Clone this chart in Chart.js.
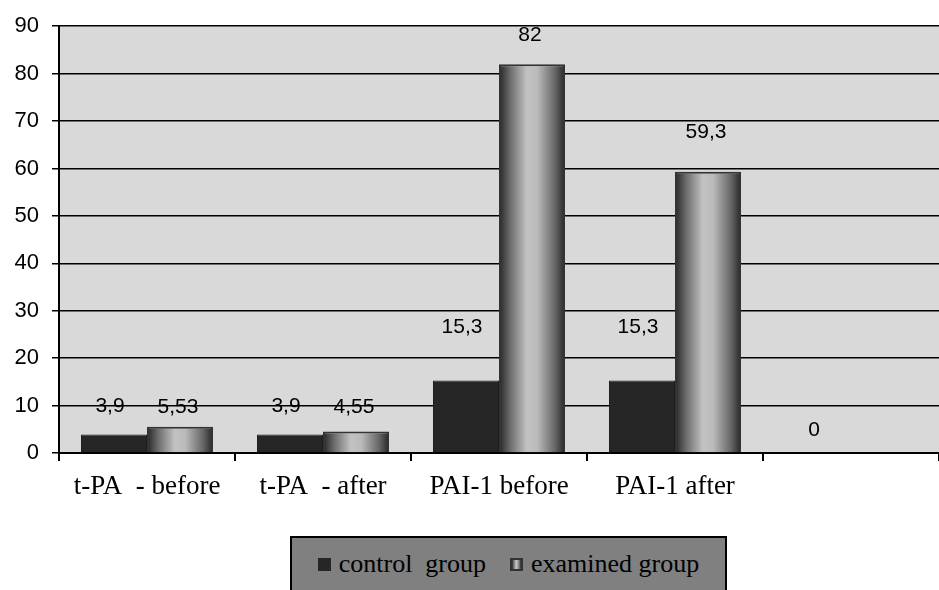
<!DOCTYPE html>
<html>
<head>
<meta charset="utf-8">
<title>t-PA / PAI-1</title>
<script src="https://cdn.jsdelivr.net/npm/chart.js@4.4.0/dist/chart.umd.min.js"></script>
<style>
	body{margin:0;background:#fff;}
	#wrap{position:relative;width:939px;height:590px;}
	#legend{position:absolute;left:290px;top:536px;width:433px;height:52px;background:#808080;border:2px solid #000;
		display:flex;align-items:center;justify-content:center;font-family:"Liberation Serif","Times New Roman",serif;font-size:26px;color:#000;}
	#legend .item{display:flex;align-items:center;margin:0 12px;}
	#legend .sw{width:13px;height:13px;margin-right:8px;box-sizing:border-box;}
</style>
</head>
<body>
<div id="wrap">
	<canvas id="chart" width="939" height="590"></canvas>
	<div id="legend"></div>
</div>
<script>
/*	t-PA and PAI-1, control vs examined group
*/

const categories = ["t-PA  - before", "t-PA  - after", "PAI-1 before", "PAI-1 after", ""];
const controlGroup = [3.9, 3.9, 15.3, 15.3, 0];
const examinedGroup = [5.53, 4.55, 82, 59.3, null];
const seriesNames = ["control  group", "examined group"];
const yTicks = [0, 10, 20, 30, 40, 50, 60, 70, 80, 90];

let catShare = 0.75,
	examinedFill = "linear-gradient(to right,#2a2a2a,#777 20%,#c4c4c4 45%,#bdbdbd 55%,#6a6a6a 85%,#2a2a2a)";

//horizontal shading so the examined bars look like cylinders
const cylinder = function(context){
	let chart = context.chart,
		x = chart.scales.x;
	if(!chart.chartArea || !x || context.dataIndex === undefined) return "#999";
	let cw = x.getPixelForValue(1) - x.getPixelForValue(0),
		bw = cw * catShare / 2,
		left = x.getPixelForValue(context.dataIndex),
		g = chart.ctx.createLinearGradient(left, 0, left + bw, 0);
	g.addColorStop(0, "#252525");
	g.addColorStop(0.18, "#707070");
	g.addColorStop(0.42, "#c2c2c2");
	g.addColorStop(0.58, "#bababa");
	g.addColorStop(0.85, "#666");
	g.addColorStop(1, "#262626");
	return g;
};

const plotBackground = {
	id:"plotBackground",
	beforeDraw(chart){
		let a = chart.chartArea, ctx = chart.ctx;
		ctx.save();
		ctx.fillStyle = "#d9d9d9";
		ctx.fillRect(a.left, a.top, a.right - a.left, a.bottom - a.top);
		ctx.restore();
	}
};

//value labels, comma as decimal sign
const valueLabels = {
	id:"valueLabels",
	afterDatasetsDraw(chart, args, opts){
		let ctx = chart.ctx;
		ctx.save();
		ctx.font = "21px 'Liberation Sans', Arial, sans-serif";
		ctx.fillStyle = "#000";
		ctx.textAlign = "center";
		ctx.textBaseline = "middle";
		chart.data.datasets.forEach((ds, di) => {
			chart.getDatasetMeta(di).data.forEach((bar, i) => {
				let v = ds.data[i];
				if(v === null || v === undefined) return;
				let txt = String(v).replace(".", ",");
				ctx.fillText(txt, bar.x + opts.dx[di], bar.y - opts.lift[di][i]);
			});
		});
		ctx.restore();
	}
};

const chart = new Chart(document.getElementById("chart").getContext("2d"), {
	type:"bar",
	data:{
		labels:categories,
		datasets:[{
			label:seriesNames[0],
			data:controlGroup,
			backgroundColor:"#262626",
			borderColor:"#1e1e1e",
			borderWidth:1,
			categoryPercentage:catShare,
			barPercentage:1},
		{
			label:seriesNames[1],
			data:examinedGroup,
			backgroundColor:cylinder,
			borderColor:"#333",
			borderWidth:2,
			categoryPercentage:catShare,
			barPercentage:1}
		]},
	options:{
		responsive:false,
		animation:false,
		layout:{padding:{top:21, left:0, right:0, bottom:0}},
		plugins:{
			legend:{display:false},
			tooltip:{enabled:false},
			valueLabels:{
				dx:[-4, -2],
				lift:[[28, 28, 53, 53, 23], [20, 24, 29, 40, 0]]
			}
		},
		scales:{
			y:{
				min:0,
				max:90,
				afterFit(scale){ scale.width = 59; },
				afterBuildTicks(scale){ scale.ticks = yTicks.map(v => ({value:v})); },
				border:{color:"#000", width:2},
				grid:{color:"#000", lineWidth:1.5, tickLength:7},
				ticks:{color:"#000", padding:13, font:{family:"'Liberation Sans', Arial, sans-serif", size:22}}
			},
			x:{
				offset:true,
				afterFit(scale){ scale.height = 590 - 453; },
				border:{color:"#000", width:2},
				grid:{
					offset:true,
					drawOnChartArea:false,
					tickLength:8,
					lineWidth:2,
					color:(c) => (c.index >= categories.length ? "rgba(0,0,0,0)" : "#000")
				},
				ticks:{color:"#000", padding:10, maxRotation:0, font:{family:"'Liberation Serif', 'Times New Roman', serif", size:27}}
			}
		}
	},
	plugins:[plotBackground, valueLabels]
});

//legend box under the chart
let legend = document.getElementById("legend");
seriesNames.forEach((name, i) => {
	let item = document.createElement("span"),
		sw = document.createElement("span"),
		txt = document.createElement("span");
	item.className = "item";
	sw.className = "sw";
	if(i === 0) sw.style.background = "#262626";
	else{ sw.style.background = examinedFill; sw.style.border = "2px solid #333"; }
	txt.textContent = name;
	txt.style.whiteSpace = "pre";
	item.appendChild(sw);
	item.appendChild(txt);
	legend.appendChild(item);
});
</script>
</body>
</html>
